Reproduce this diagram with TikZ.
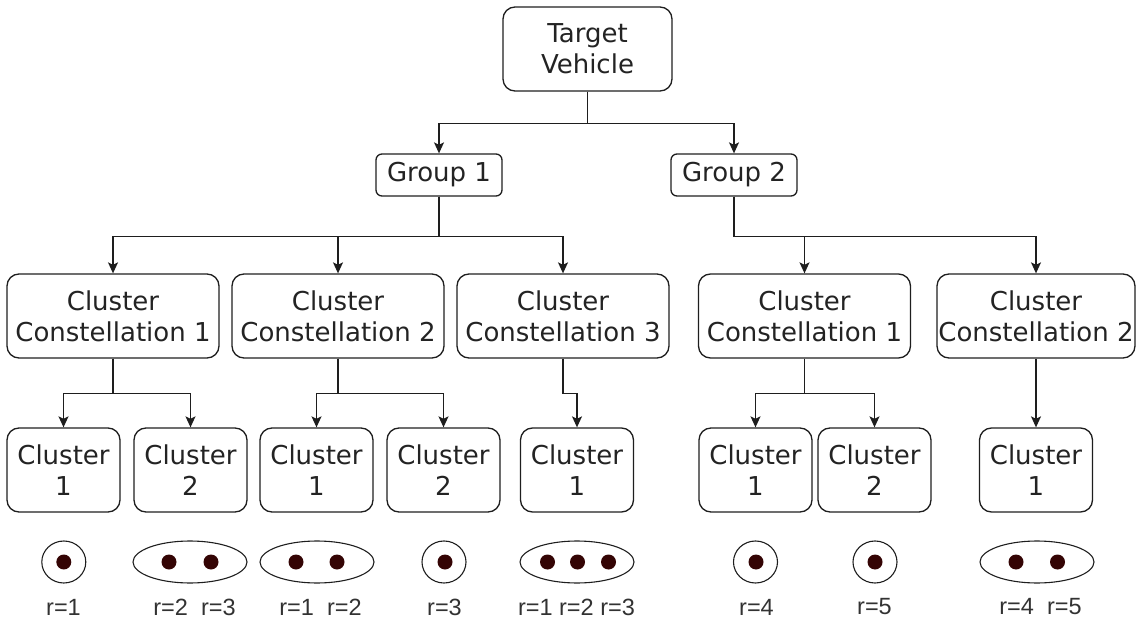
\documentclass[tikz,border=0pt]{standalone}
\usepackage{fontspec}
\setmainfont{DejaVu Sans}
\newfontfamily\labelfont{Liberation Sans}
\usetikzlibrary{arrows.meta}
\definecolor{linec}{RGB}{30,30,30}
\definecolor{txtc}{RGB}{35,35,35}
\definecolor{dotc}{RGB}{52,4,4}
\definecolor{lblc}{RGB}{50,50,50}

\begin{document}
\begin{tikzpicture}[x=1pt,y=-1pt,
  box/.style={draw=linec, line width=1.3pt, rounded corners=12pt, align=center,
    inner sep=0pt, text=txtc, font=\fontsize{26}{31}\selectfont,
    minimum height=84pt},
  grp/.style={box, rounded corners=6pt, minimum width=126pt, minimum height=42pt},
  cons/.style={box, minimum width=212pt},
  clus/.style={box, minimum width=113pt},
  conn/.style={draw=linec, line width=1.3pt,
    -{Stealth[length=11pt, width=10pt, inset=2.5pt]}},
  ring/.style={draw=linec, line width=1.1pt},
  dot/.style={fill=dotc},
  rlabel/.style={inner sep=0pt, text=lblc, font=\labelfont\fontsize{23.5}{26}\selectfont}
]
\useasboundingbox (0,0) rectangle (1136,623);

% root and groups
\node[box, minimum width=169pt] (tv) at (587.5,49) {Target\\Vehicle};
\node[grp] (g1) at (439,175) {Group 1};
\node[grp] (g2) at (734,175) {Group 2};

% cluster constellations
\node[cons] (cc1) at (113,316) {Cluster\\Constellation 1};
\node[cons] (cc2) at (338,316) {Cluster\\Constellation 2};
\node[cons] (cc3) at (563,316) {Cluster\\Constellation 3};
\node[cons] (cc4) at (804.5,316) {Cluster\\Constellation 1};
\node[cons, minimum width=198pt] (cc5) at (1036,316) {Cluster\\Constellation 2};

% clusters
\node[clus] (c1) at (63.5,470) {Cluster\\1};
\node[clus] (c2) at (190.5,470) {Cluster\\2};
\node[clus] (c3) at (316.5,470) {Cluster\\1};
\node[clus] (c4) at (443.5,470) {Cluster\\2};
\node[clus] (c5) at (577,470) {Cluster\\1};
\node[clus] (c6) at (755.5,470) {Cluster\\1};
\node[clus] (c7) at (874.5,470) {Cluster\\2};
\node[clus] (c8) at (1036,470) {Cluster\\1};

% tree connectors
\draw[conn] (tv.south) -- ++(0,32) -| (g1.north);
\draw[conn] (tv.south) -- ++(0,32) -| (g2.north);
\foreach \t in {cc1,cc2,cc3}
  \draw[conn] (g1.south) -- ++(0,40) -| (\t.north);
\foreach \t in {cc4,cc5}
  \draw[conn] (g2.south) -- ++(0,40) -| (\t.north);
\foreach \s/\t in {cc1/c1,cc1/c2,cc2/c3,cc2/c4,cc3/c5,cc4/c6,cc4/c7}
  \draw[conn] (\s.south) -- ++(0,35) -| (\t.north);
\draw[conn] (cc5.south) -- (c8.north);

% member groupings with their points
\draw[ring] (63.8,562) ellipse [x radius=22, y radius=21];
\fill[dot] (63.8,562) circle [radius=7.5];

\draw[ring] (190,562) ellipse [x radius=57, y radius=21];
\fill[dot] (169,562) circle [radius=7.5];
\fill[dot] (211,562) circle [radius=7.5];

\draw[ring] (317,562) ellipse [x radius=57, y radius=21];
\fill[dot] (296,562) circle [radius=7.5];
\fill[dot] (337,562) circle [radius=7.5];

\draw[ring] (444,562) ellipse [x radius=22, y radius=21];
\fill[dot] (445,562) circle [radius=7.5];

\draw[ring] (577,562) ellipse [x radius=57, y radius=21];
\fill[dot] (547.5,562) circle [radius=7.5];
\fill[dot] (577.5,562) circle [radius=7.5];
\fill[dot] (608.5,562) circle [radius=7.5];

\draw[ring] (755.5,562) ellipse [x radius=22, y radius=21];
\fill[dot] (756,562) circle [radius=7.5];

\draw[ring] (875,562) ellipse [x radius=22, y radius=21];
\fill[dot] (875,562) circle [radius=7.5];

\draw[ring] (1037,562) ellipse [x radius=57, y radius=21];
\fill[dot] (1016,562) circle [radius=7.5];
\fill[dot] (1057.5,562) circle [radius=7.5];

% labels
\node[rlabel] (l1) at (63.5,607) {r=1};
\node[rlabel] (l2) at (194.5,607) {r=2~~r=3};
\node[rlabel] (l3) at (320.5,607) {r=1~~r=2};
\node[rlabel] (l4) at (444.5,607) {r=3};
\node[rlabel] (l5) at (576.5,607) {r=1 r=2 r=3};
\node[rlabel] (l6) at (756.5,607) {r=4};
\node[rlabel] (l7) at (874.5,607) {r=5};
\node[rlabel] (l8) at (1040.5,607) {r=4~~r=5};
\end{tikzpicture}
\end{document}
